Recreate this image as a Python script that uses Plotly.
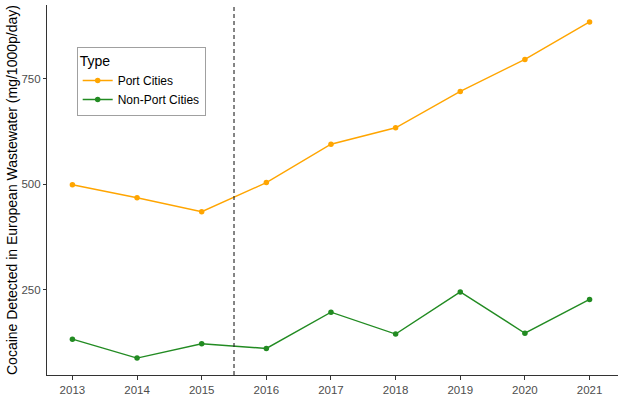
import plotly.graph_objects as go

years = [2013, 2014, 2015, 2016, 2017, 2018, 2019, 2020, 2021]
port_cities = [499, 468, 435, 504, 595, 634, 720, 796, 885]
non_port_cities = [133, 88, 122, 111, 197, 145, 245, 147, 227]
series_names = ["Port Cities", "Non-Port Cities"]
series_colors = ["#FFA500", "#228B22"]
y_ticks = [250, 500, 750]
cutoff_year = 2015.5

FONT = "Liberation Sans, Arial, sans-serif"

fig = go.Figure()
for name, vals, col in zip(series_names, [port_cities, non_port_cities], series_colors):
    fig.add_trace(go.Scatter(
        x=years, y=vals, mode="lines+markers", name=name,
        line=dict(color=col, width=1.4),
        marker=dict(color=col, size=5.5),
    ))

fig.add_vline(x=cutoff_year, line=dict(color="#222222", width=1.1, dash="4px,3px"))

fig.update_layout(
    width=621, height=414,
    margin=dict(l=47, r=3, t=5, b=39),
    paper_bgcolor="white", plot_bgcolor="white",
    font=dict(family=FONT, color="black"),
    showlegend=True,
    legend=dict(
        title=dict(text="Type", font=dict(size=14, color="black")),
        font=dict(size=12, color="black"),
        x=0.052, y=0.887, xanchor="left", yanchor="top",
        bordercolor="#a0a0a0", borderwidth=1, bgcolor="white",
        tracegroupgap=0, itemwidth=30,
    ),
    xaxis=dict(
        range=[2012.607, 2021.44], tickvals=years, ticktext=[str(y) for y in years],
        showgrid=False, zeroline=False, showline=True, linecolor="#333333", linewidth=1.2,
        ticks="outside", ticklen=4, tickcolor="#333333",
        tickfont=dict(size=11.5, color="#4d4d4d"),
    ),
    yaxis=dict(
        range=[48, 925], tickvals=y_ticks,
        showgrid=False, zeroline=False, showline=True, linecolor="#333333", linewidth=1.2,
        ticks="outside", ticklen=3, tickcolor="#333333",
        tickfont=dict(size=11.5, color="#4d4d4d"),
    ),
    annotations=[dict(
        text="Cocaine Detected in European Wastewater (mg/1000p/day)",
        xref="paper", yref="paper", x=-47/571, xshift=2, y=0.5,
        xanchor="left", yanchor="middle", textangle=-90, showarrow=False,
        font=dict(size=14, color="black"),
    )],
)

fig.write_html("out.html")
